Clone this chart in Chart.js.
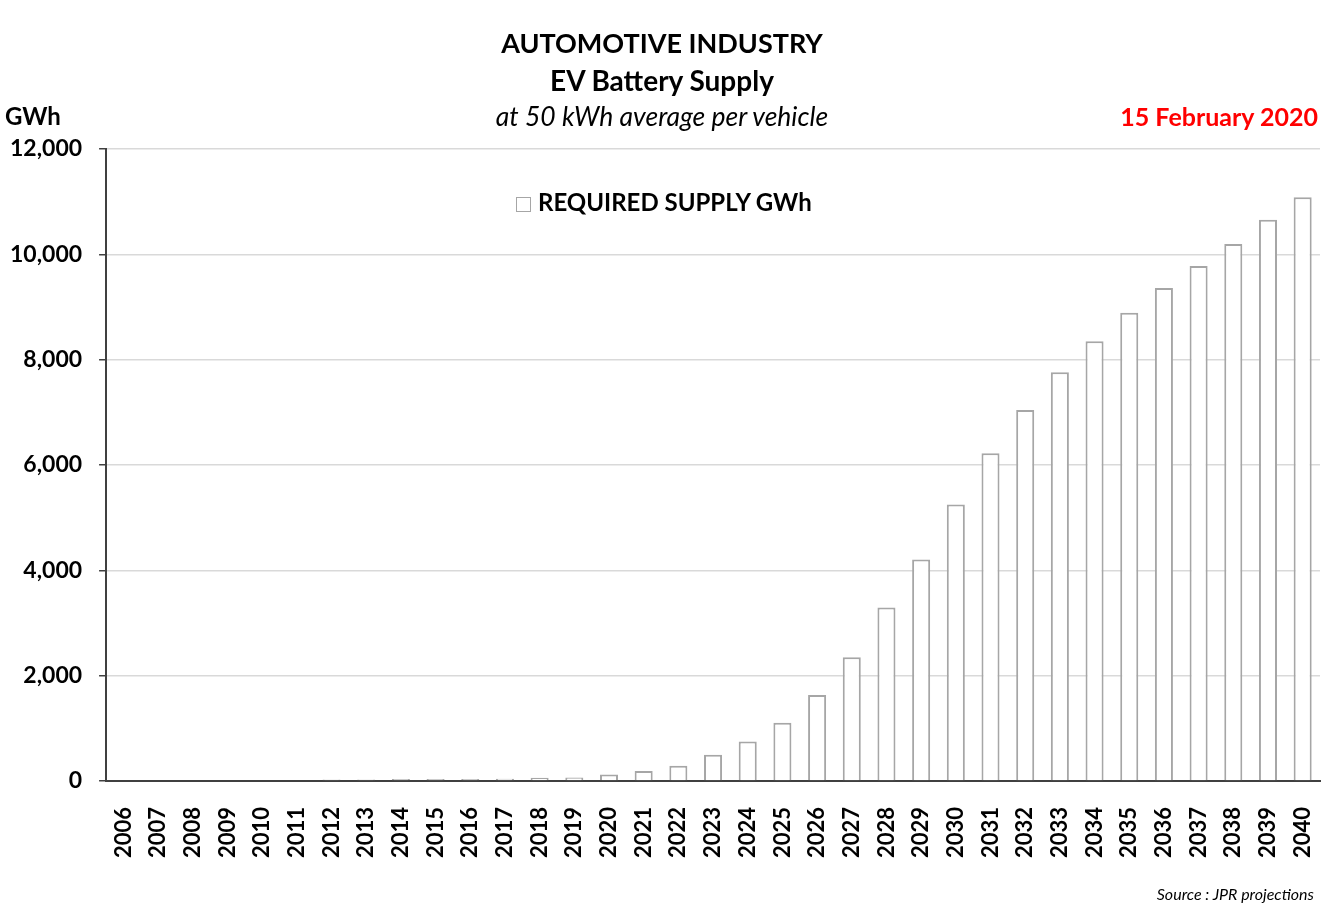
<!DOCTYPE html>
<html>
<head>
<meta charset="utf-8">
<script src="https://cdn.jsdelivr.net/npm/chart.js@4.4.1/dist/chart.umd.min.js"></script>
<style>
    body { margin: 0; background: #fff; font-family: Lato, 'Open Sans', sans-serif; }
    #wrap { position: relative; width: 1342px; height: 917px; }
    #chart { position: absolute; left: 0; top: 0; }
    .txt { position: absolute; white-space: nowrap; color: #000; }
    .title { left: 0; width: 1324px; text-align: center; font-weight: bold; font-size: 27px; }
    #legend { left: 516px; top: 187px; font-weight: bold; font-size: 24px; }
    #legend span.box { display: inline-block; width: 13px; height: 13px; border: 1.5px solid #a6a6a6; margin-right: 7px; vertical-align: -1px; }
</style>
</head>
<body>
<div id="wrap">
    <canvas id="chart" width="1342" height="917"></canvas>
    <div class="txt title" style="top:26px;">AUTOMOTIVE INDUSTRY</div>
    <div class="txt title" style="top:63px; font-size:28px;">EV Battery Supply</div>
    <div class="txt title" style="top:100px; font-weight:normal; font-style:italic; font-size:26.5px;">at 50 kWh average per vehicle</div>
    <div class="txt" style="left:5px; top:101px; font-weight:bold; font-size:24px;">GWh</div>
    <div class="txt" style="right:24px; top:101px; font-weight:bold; font-size:25px; color:#ff0000;">15 February 2020</div>
    <div class="txt" id="legend"><span class="box"></span>REQUIRED SUPPLY GWh</div>
    <div class="txt" style="right:28px; top:884px; font-style:italic; font-size:16px;">Source : JPR projections</div>
</div>
<script>
'use strict';

// années et GWh requis
const years = [
    '2006', '2007', '2008', '2009', '2010', '2011', '2012', '2013', '2014',
    '2015', '2016', '2017', '2018', '2019', '2020', '2021', '2022', '2023',
    '2024', '2025', '2026', '2027', '2028', '2029', '2030', '2031', '2032',
    '2033', '2034', '2035', '2036', '2037', '2038', '2039', '2040',
];
const requiredSupply = [
    0, 0, 0, 0, 0, 0, 30, 30, 35,
    35, 35, 40, 60, 65, 125, 190, 290, 500,
    750, 1105, 1630, 2350, 3295, 4205, 5250, 6225, 7045,
    7760, 8350, 8890, 9360, 9780, 10195, 10655, 11085,
];
const yTicks = [0, 2000, 4000, 6000, 8000, 10000, 12000];

const chartEl = document.getElementById('chart');

new Chart(chartEl, {
    type: 'bar',
    data: {
        labels: years,
        datasets: [
            {
                label: 'REQUIRED SUPPLY GWh',
                data: requiredSupply,
                backgroundColor: '#ffffff',
                borderColor: '#a6a6a6',
                borderWidth: 2,
                categoryPercentage: 1,
                barPercentage: 0.52,
            },
        ],
    },
    options: {
        responsive: false,
        animation: false,
        events: [],
        layout: {
            padding: { left: -7, right: 22, top: 149, bottom: 41 },
        },
        plugins: {
            legend: { display: false },
            tooltip: { enabled: false },
        },
        scales: {
            x: {
                // pas de marge en plus pour la dernière étiquette
                afterFit: (axis) => {
                    axis.paddingRight = 0;
                },
                grid: { display: false },
                border: { color: '#404040', width: 2 },
                ticks: {
                    color: '#000',
                    maxRotation: 90,
                    minRotation: 90,
                    autoSkip: false,
                    padding: 18,
                    font: { family: 'Lato', size: 22, weight: 'bold' },
                },
            },
            y: {
                min: 0,
                max: 12000,
                afterBuildTicks: (axis) => {
                    axis.ticks = yTicks.map((v) => ({ value: v }));
                },
                grid: {
                    color: '#d9d9d9',
                    lineWidth: 1.5,
                    tickLength: 7,
                    tickColor: '#404040',
                    tickWidth: 1.5,
                },
                border: { color: '#404040', width: 2 },
                ticks: {
                    color: '#000',
                    padding: 17,
                    font: { family: 'Lato', size: 23, weight: 'bold' },
                    callback: (v) => v.toLocaleString('en-US'),
                },
            },
        },
    },
});
</script>
</body>
</html>
